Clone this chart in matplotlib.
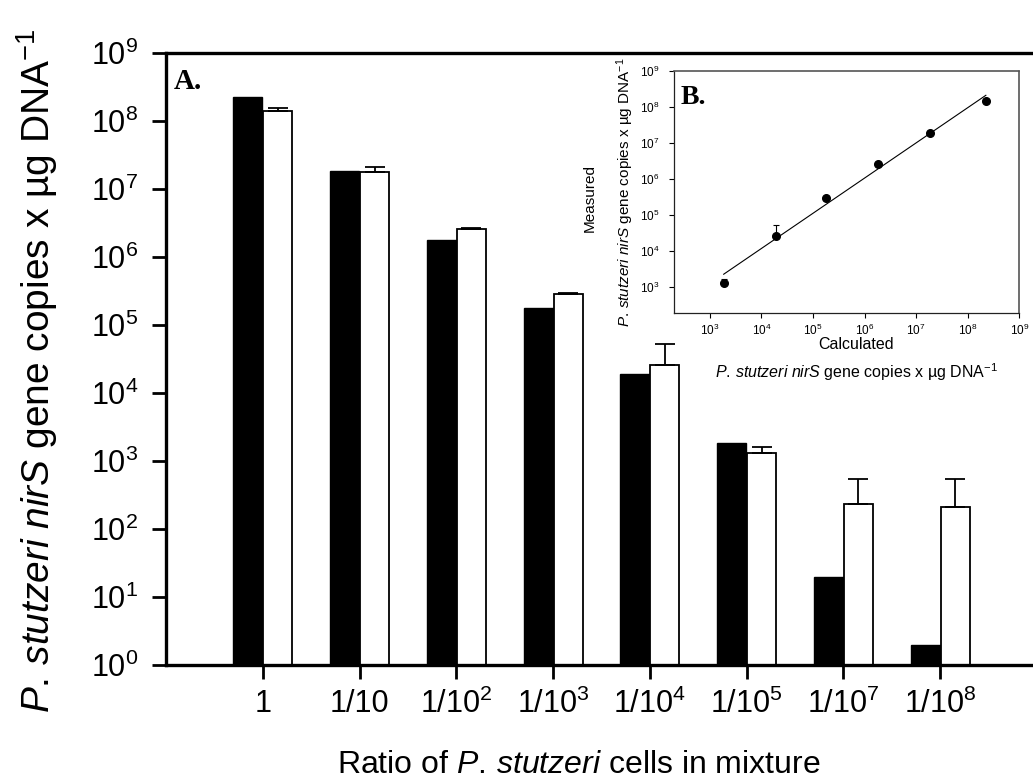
import numpy as np
import matplotlib.pyplot as plt
from matplotlib.ticker import NullLocator

plt.rcParams['font.family'] = 'Liberation Sans'
plt.rcParams['mathtext.fontset'] = 'custom'
plt.rcParams['mathtext.rm'] = 'Liberation Sans'
plt.rcParams['mathtext.it'] = 'Liberation Sans:italic'
plt.rcParams['mathtext.bf'] = 'Liberation Sans:bold'

# data
ratios = ['1', '1/10', r'$\mathregular{1/10^{2}}$', r'$\mathregular{1/10^{3}}$',
          r'$\mathregular{1/10^{4}}$', r'$\mathregular{1/10^{5}}$',
          r'$\mathregular{1/10^{7}}$', r'$\mathregular{1/10^{8}}$']
calculated = [2.25e8, 1.85e7, 1.8e6, 1.8e5, 1.9e4, 1.85e3, 20, 2.0]
measured = [1.4e8, 1.8e7, 2.6e6, 2.9e5, 2.6e4, 1.3e3, 230, 210]
measured_err = [1.5e7, 3e6, 5e4, 5e3, 2.6e4, 3e2, 310, 330]
n_inset = 6

gene_label = (r'$\mathit{P.\,stutzeri}$ $\mathit{nirS}$ gene copies x µg '
              r'$\mathregular{DNA^{-1}}$')

fig = plt.figure(figsize=(10.33, 7.83), dpi=100)

# ---- panel A ----
ax = fig.add_axes([0.1607, 0.1507, 0.8393, 0.7816])
x = np.arange(len(ratios))
w = 0.3
ax.bar(x - 0.155, calculated, w, color='black', edgecolor='black', lw=1)
ax.bar(x + 0.155, measured, w, color='white', edgecolor='black', lw=1.3)
ax.errorbar(x + 0.155, measured, yerr=[np.zeros(len(x)), measured_err], fmt='none',
            ecolor='black', elinewidth=1.3, capsize=7, capthick=1.3)

ax.set_yscale('log')
ax.set_ylim(1, 1e9)
ax.set_xlim(-1.0, 7.96)
ax.set_yticks(10.0 ** np.arange(0, 10))
ax.yaxis.set_minor_locator(NullLocator())
ax.set_xticks(x)
ax.set_xticklabels(ratios)
ax.spines['right'].set_visible(False)
for s in ['top', 'left', 'bottom']:
    ax.spines[s].set_linewidth(2.4)
ax.tick_params(axis='y', direction='out', length=10, width=2, labelsize=22, pad=10)
ax.tick_params(axis='x', direction='out', length=10, width=2, labelsize=22, pad=7)

fig.text(0.036, 0.527, gene_label, rotation=90, fontsize=28, ha='center', va='center')
fig.text(0.56, 0.0128, r'Ratio of $\mathit{P.\,stutzeri}$ cells in mixture',
         fontsize=23, ha='center', va='baseline')
fig.text(174 / 1033, 1 - 89 / 783, 'A.', family='Liberation Serif', weight='bold',
         fontsize=21, va='baseline')

# ---- panel B (inset) ----
axin = fig.add_axes([0.6528, 0.5999, 0.3339, 0.3098])
calc6 = np.array(calculated[:n_inset])
meas6 = np.array(measured[:n_inset])
err6 = np.array(measured_err[:n_inset])
axin.errorbar(calc6, meas6, yerr=[np.zeros(n_inset), err6], fmt='o', color='black',
              ms=5.5, elinewidth=0.8, capsize=2.5, capthick=0.8)
fit = np.polyfit(np.log10(calc6), np.log10(meas6), 1)
xs = np.array([calc6.min(), calc6.max()])
axin.plot(xs, 10 ** np.polyval(fit, np.log10(xs)), color='black', lw=0.8)

axin.set_xscale('log')
axin.set_yscale('log')
axin.set_xlim(10 ** 2.31, 1e9)
axin.set_ylim(10 ** 2.26, 1e9)
axin.set_xticks(10.0 ** np.arange(3, 10))
axin.set_yticks(10.0 ** np.arange(3, 10))
axin.xaxis.set_minor_locator(NullLocator())
axin.yaxis.set_minor_locator(NullLocator())
for s in ['left', 'bottom']:
    axin.spines[s].set_linewidth(0.9)
    axin.spines[s].set_color('#222222')
for s in ['top', 'right']:
    axin.spines[s].set_linewidth(1.2)
    axin.spines[s].set_linestyle((0, (1, 1)))
    axin.spines[s].set_color('#555555')
axin.tick_params(direction='out', length=3.5, width=0.8, labelsize=8.5)
axin.tick_params(axis='y', pad=7)
axin.tick_params(axis='x', pad=3)

fig.text(590 / 1033, 1 - 198 / 783, 'Measured', rotation=90, fontsize=11,
         ha='center', va='center')
fig.text(625 / 1033, 1 - 192 / 783, gene_label, rotation=90, fontsize=11,
         ha='center', va='center')
fig.text(856 / 1033, 1 - 345 / 783, 'Calculated', fontsize=11.5, ha='center', va='center')
fig.text(856 / 1033, 1 - 372 / 783, gene_label, fontsize=11.5, ha='center', va='center')
fig.text(681 / 1033, 1 - 104 / 783, 'B.', family='Liberation Serif', weight='bold',
         fontsize=20, va='baseline')

fig.savefig('out.png', dpi=100)
